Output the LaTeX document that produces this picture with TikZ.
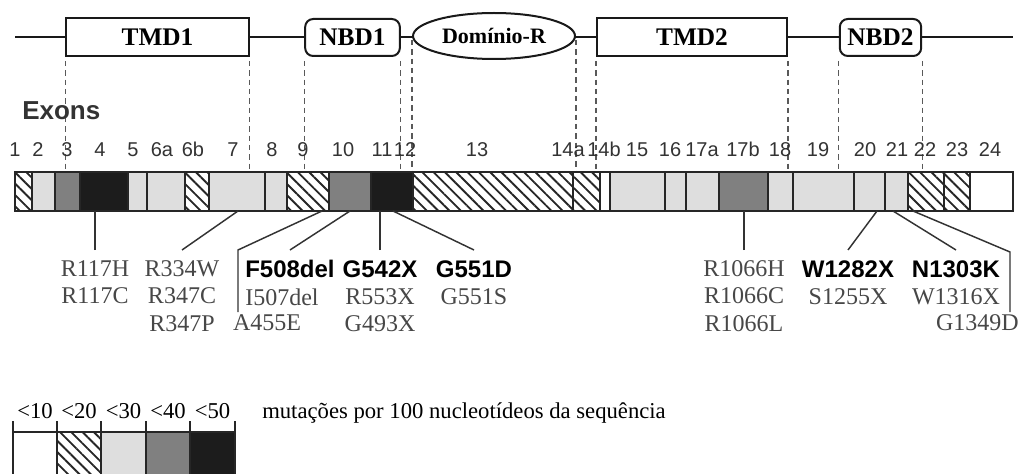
\documentclass[tikz,border=0pt]{standalone}
\usepackage{fontspec}
\setmainfont{Liberation Serif}
\setsansfont{Liberation Sans}
\usepackage{tikz}
\usetikzlibrary{shapes.geometric,patterns.meta}
\usepackage{xcolor}

\definecolor{exlight}{gray}{0.87}
\definecolor{exmid}{gray}{0.5}
\definecolor{exdark}{gray}{0.11}

\newcommand{\domfont}{\bfseries\fontsize{19}{22}\selectfont}
\newcommand{\exfont}{\sffamily\fontsize{15}{18}\selectfont}
\newcommand{\mutfont}{\fontsize{18}{20.6}\selectfont}
\newcommand{\keyfont}{\sffamily\bfseries\color{black}}
\newcommand{\legfont}{\fontsize{17}{20}\selectfont}

\begin{document}
\begin{tikzpicture}[x=0.75pt,y=-0.75pt,
  domline/.style={draw=black!90,line width=1.5pt},
  dombox/.style={domline,fill=white,inner sep=0pt,font=\domfont},
  guide/.style={draw=black!65,line width=0.8pt,dash pattern=on 4pt off 3pt,shorten <=3pt},
  exline/.style={draw=black!85,line width=1.3pt},
  exnum/.style={font=\exfont,text=black!80,anchor=base,inner sep=0pt},
  exhatch/.style={pattern={Lines[angle=-45,distance=6pt,line width=1.4pt]},pattern color=black!85},
  mut/.style={font=\mutfont,text=black!72,align=center,inner xsep=0pt,inner ysep=7.5pt,anchor=north},
  mutlow/.style={mut,inner ysep=2pt},
  leader/.style={draw=black!80,line width=1.1pt}]

\useasboundingbox (0,0) rectangle (1021,474);

% protein domains
\coordinate (lstart) at (15,37);
\coordinate (lend) at (1013,37);
\draw[domline] (lstart) -- (lend);
\node[dombox,minimum width=137pt,minimum height=28.5pt] (tmd1) at (157.5,37) {TMD1};
\node[dombox,rounded corners=6pt,minimum width=71pt,minimum height=27.75pt] (nbd1) at (352.5,37.5) {NBD1};
\node[dombox,ellipse,minimum width=121.5pt,minimum height=34.5pt,font=\bfseries\fontsize{16.5}{19}\selectfont] (rdom) at (494,36) {Domínio-R};
\node[dombox,minimum width=142.5pt,minimum height=28.5pt] (tmd2) at (692,37) {TMD2};
\node[dombox,rounded corners=6pt,minimum width=61pt,minimum height=27.75pt] (nbd2) at (880.5,37.5) {NBD2};

\coordinate (bartop) at (0,172);
\coordinate (barbot) at (0,211);

\foreach \n/\a in {tmd1/south west,tmd1/south east,nbd1/south west,nbd1/south east,rdom/west,rdom/east,tmd2/south west,tmd2/south east,nbd2/south west,nbd2/south east}
  \draw[guide] (\n.\a) -- (\n.\a |- bartop);

% exon bar
\node[font=\sffamily\bfseries\fontsize{19.5}{22}\selectfont,text=black!80,anchor=base west,inner sep=0pt] (exons) at (22,120) {Exons};

\foreach \a/\b/\c in {32/55/exlight,55/80/exmid,80/128/exdark,128/185/exlight,209/287/exlight,329/371/exmid,371/413/exdark,600/610/white,610/719/exlight,719/768/exmid,768/908/exlight,970/1013/white}
  \fill[fill=\c] (\a,172) rectangle (\b,211);
\foreach \a/\b in {15/32,185/209,287/329,413/600,908/970}
  \fill[exhatch] (\a,172) rectangle (\b,211);
\foreach \x in {32,55,80,128,147,185,209,265,287,329,371,413,573,600,610,665,686,719,768,793,854,885,908,944,970}
  \draw[exline] (\x,172) -- (\x,211);
\draw[exline] (15,172) rectangle (1013,211);

\foreach \x/\lab in {15/1,38/2,67/3,100/4,133/5,162/6a,193/6b,233/7,272/8,303/9,343/10,382/11,405/12,477/13,568/14a,604/14b,637/15,670/16,702/17a,743/17b,780/18,818/19,865/20,897/21,925/22,957/23,990/24}
  \node[exnum] (ex\lab) at (\x,157) {\lab};

% mutations
\node[mut] (r117) at (95,250) {R117H\\R117C};
\node[mut] (r334) at (182,250) {R334W\\R347C\\R347P};
\node[mut,anchor=north west,align=left] (f508) at (245,250) {{\keyfont F508del}\\I507del};
\node[mutlow] (a455) at (267,312) {A455E};
\node[mut] (g542) at (380,250) {{\keyfont G542X}\\R553X\\G493X};
\node[mut] (g551) at (474,250) {{\keyfont G551D}\\G551S};
\node[mut] (r1066) at (744,250) {R1066H\\R1066C\\R1066L};
\node[mut] (w1282) at (848,250) {{\keyfont W1282X}\\S1255X};
\node[mut] (n1303) at (956,250) {{\keyfont N1303K}\\W1316X};
\node[mutlow,anchor=north east] (g1349) at (1019,312) {G1349D};

\coordinate (p334) at (238,211);
\coordinate (p455) at (322,211);
\coordinate (p508) at (350,211);
\coordinate (p551) at (393,211);
\coordinate (p1282) at (877,211);
\coordinate (p1303) at (893,211);
\coordinate (p1349) at (913,211);
\coordinate (a455bend) at (238,250);
\coordinate (g1349bend) at (1010,252);

\draw[leader] (r117.north) -- (r117.north |- barbot);
\draw[leader] (p334) -- (r334.north);
\draw[leader] (p455) -- (a455bend) -- (a455bend |- a455.north);
\draw[leader] (p508) -- (f508.north);
\draw[leader] (g542.north) -- (g542.north |- barbot);
\draw[leader] (p551) -- (g551.north);
\draw[leader] (r1066.north) -- (r1066.north |- barbot);
\draw[leader] (p1282) -- (w1282.north);
\draw[leader] (p1303) -- (n1303.north);
\draw[leader] (p1349) -- (g1349bend) -- (g1349bend |- g1349.north);

% legend
\foreach \a/\b/\c in {13/57/white,101/146/exlight,146/190/exmid,190/235/exdark}
  \fill[fill=\c] (\a,432) rectangle (\b,476);
\fill[exhatch] (57,432) rectangle (101,476);
\foreach \x in {13,57,101,146,190,235}
  \draw[line width=1pt,black!85] (\x,421) -- (\x,476);
\draw[exline] (13,432) -- (235,432);

\foreach \x/\lab/\i in {35/10/1,79/20/2,123.5/30/3,168/40/4,212.5/50/5}
  \node[font=\legfont,anchor=base,inner sep=0pt] (lg\i) at (\x,418) {\textless\lab};
\node[font=\legfont,anchor=base west,inner sep=0pt] (legtext) at (262,418) {mutações por 100 nucleotídeos da sequência};

\end{tikzpicture}
\end{document}
